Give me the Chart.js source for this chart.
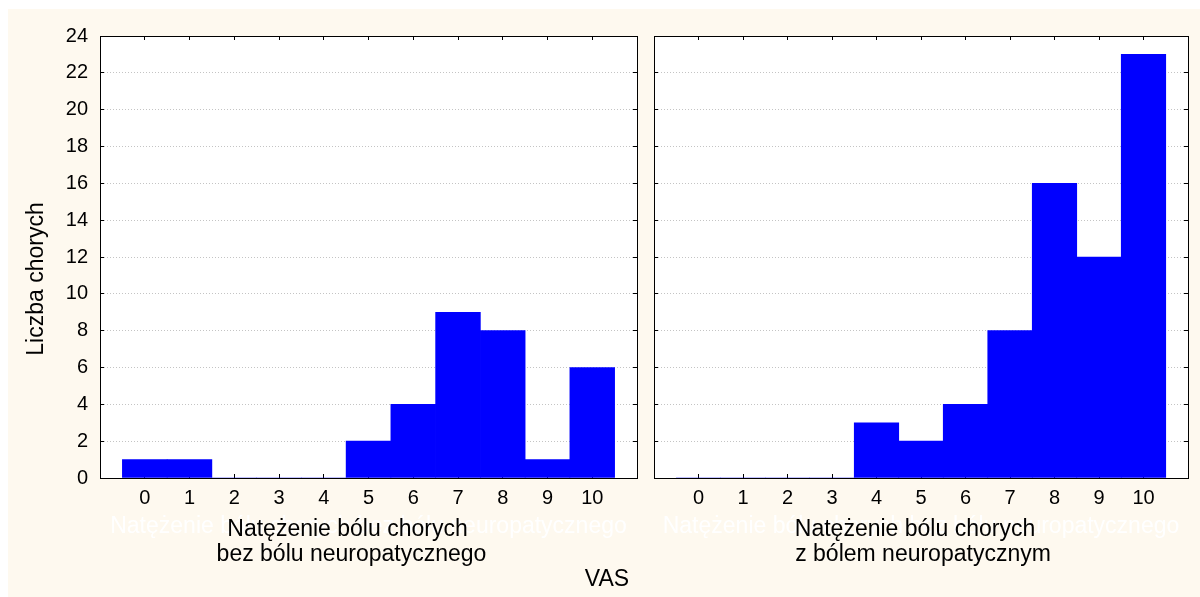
<!DOCTYPE html>
<html>
<head>
<meta charset="utf-8">
<script src="https://cdn.jsdelivr.net/npm/chart.js@4.4.0/dist/chart.umd.min.js"></script>
<style>
  body { margin: 0; background: #fff; }
  #wrap { position: relative; width: 1200px; height: 597px; overflow: hidden; }
  #cream { position: absolute; left: 8px; top: 9px; width: 1192px; height: 588px; background: #fef9ef; }
  canvas { position: absolute; left: 0; top: 0; }
</style>
</head>
<body>
<div id="wrap">
  <div id="cream"></div>
  <canvas id="leftChart" width="1200" height="597"></canvas>
  <canvas id="rightChart" width="1200" height="597"></canvas>
</div>
<script>
// VAS scores on the x axis
const vasLevels = [0, 1, 2, 3, 4, 5, 6, 7, 8, 9, 10];
// number of patients per VAS score
const countsWithout = [1, 1, 0, 0, 0, 2, 4, 9, 8, 1, 6];
const countsWith = [0, 0, 0, 0, 3, 2, 4, 8, 16, 12, 23];
const yTicks = [0, 2, 4, 6, 8, 10, 12, 14, 16, 18, 20, 22, 24];

const FONT = 'Arial, "Liberation Sans", sans-serif';
const ghostTitle = 'Natężenie bólu chorych bez bólu neuropatycznego';

// white plot background
const plotBg = {
    id: 'plotBg',
    beforeDraw(chart) {
        const a = chart.chartArea;
        const ctx = chart.ctx;
        ctx.save();
        ctx.fillStyle = '#ffffff';
        ctx.fillRect(a.left, a.top, a.right - a.left, a.bottom - a.top);
        ctx.restore();
    }
};

// lines: [text, offset from plot centre]
function titlesPlugin(lines, extra) {
    return {
        id: 'titles',
        afterDraw(chart) {
            const a = chart.chartArea;
            const ctx = chart.ctx;
            const cx = (a.left + a.right) / 2;
            ctx.save();
            ctx.textAlign = 'center';
            ctx.textBaseline = 'middle';
            ctx.font = '23px ' + FONT;
            // faint white copy behind the real title
            ctx.fillStyle = '#ffffff';
            ctx.fillText(ghostTitle, cx, 527);
            ctx.fillStyle = '#000000';
            ctx.fillText(lines[0][0], cx + lines[0][1], 530);
            ctx.fillText(lines[1][0], cx + lines[1][1], 555);
            if (extra) extra(ctx);
            ctx.restore();
        }
    };
}

function makeChart(id, counts, opts) {
    const points = vasLevels.map((v, i) => ({ x: v, y: counts[i] }));
    return new Chart(document.getElementById(id), {
        type: 'bar',
        data: {
            datasets: [{
                data: points,
                backgroundColor: '#0000ff',
                borderWidth: 0,
                barPercentage: 1,
                categoryPercentage: 1
            }]
        },
        options: {
            responsive: false,
            animation: false,
            devicePixelRatio: 1,
            events: [],
            layout: { padding: opts.padding },
            plugins: { legend: { display: false }, tooltip: { enabled: false } },
            scales: {
                x: {
                    type: 'linear',
                    position: 'bottom',
                    min: -1,
                    max: 11,
                    offset: false,
                    afterBuildTicks: s => { s.ticks = [-1].concat(vasLevels, [11]).map(v => ({ value: v })); },
                    ticks: {
                        autoSkip: false,
                        maxRotation: 0,
                        color: '#000',
                        font: { family: FONT, size: 20 },
                        padding: 12,
                        callback: v => (v < 0 || v > 10) ? '' : String(v)
                    },
                    grid: { offset: false, drawOnChartArea: false, tickLength: -4, tickColor: '#000' },
                    border: { color: '#000', width: 1 },
                    afterFit: s => { s.height = 119; }
                },
                xTop: {
                    type: 'linear',
                    position: 'top',
                    min: -1,
                    max: 11,
                    offset: false,
                    afterBuildTicks: s => { s.ticks = vasLevels.map(v => ({ value: v })); },
                    ticks: { display: false },
                    grid: { offset: false, drawOnChartArea: false, tickLength: -4, tickColor: '#000' },
                    border: { color: '#000', width: 1 },
                    afterFit: s => { s.height = 0; }
                },
                y: {
                    position: 'left',
                    min: 0,
                    max: 24,
                    afterBuildTicks: s => { s.ticks = yTicks.map(v => ({ value: v })); },
                    ticks: {
                        display: opts.showY,
                        color: '#000',
                        font: { family: FONT, size: 20 },
                        padding: 16
                    },
                    grid: { color: '#c4c4c4', tickLength: -4, tickColor: '#000' },
                    border: { color: '#000', width: 1, dash: [1, 2] },
                    afterFit: s => { s.width = opts.yWidth; }
                },
                yRight: {
                    position: 'right',
                    min: 0,
                    max: 24,
                    afterBuildTicks: s => { s.ticks = yTicks.map(v => ({ value: v })); },
                    ticks: { display: false },
                    grid: { drawOnChartArea: false, tickLength: -4, tickColor: '#000' },
                    border: { color: '#000', width: 1 },
                    afterFit: s => { s.width = 0; }
                }
            }
        },
        plugins: [plotBg, opts.titles]
    });
}

makeChart('leftChart', countsWithout, {
    padding: { left: 0, right: 563, top: 36, bottom: 0 },
    yWidth: 100,
    showY: true,
    titles: titlesPlugin([['Natężenie bólu chorych', -21], ['bez bólu neuropatycznego', -17]], ctx => {
        ctx.fillText('VAS', 607, 580);
        ctx.translate(37, 279);
        ctx.rotate(-Math.PI / 2);
        ctx.fillText('Liczba chorych', 0, 0);
    })
});

makeChart('rightChart', countsWith, {
    padding: { left: 0, right: 7, top: 36, bottom: 0 },
    yWidth: 654,
    showY: false,
    titles: titlesPlugin([['Natężenie bólu chorych', -6], ['z bólem neuropatycznym', 2]])
});
</script>
</body>
</html>
